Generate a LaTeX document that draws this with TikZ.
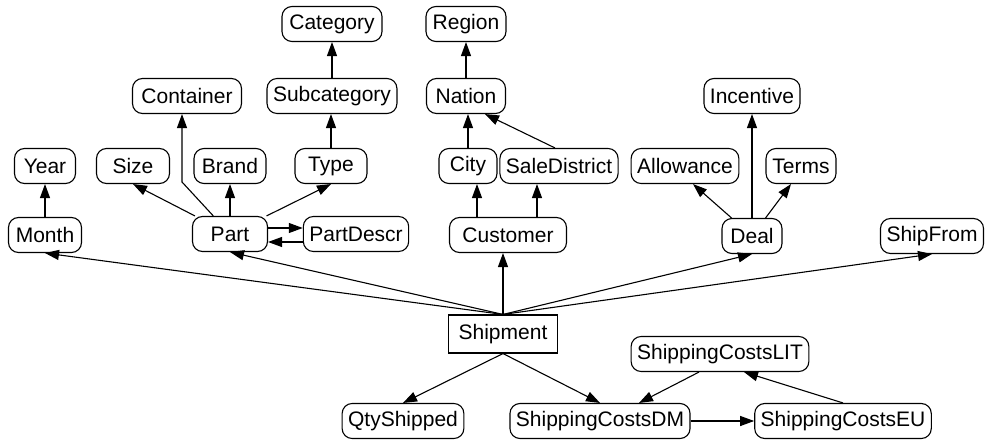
\documentclass[tikz,border=0pt]{standalone}
\usepackage{fontspec}
\setmainfont{Liberation Sans}
\usetikzlibrary{arrows.meta}

\begin{document}
\begin{tikzpicture}[x=1pt,y=-1pt,
    attr/.style={draw, rounded corners=10pt, line width=1.1pt, minimum height=35pt,
        inner xsep=6pt, font=\fontsize{21}{25}\selectfont},
    fact/.style={draw, line width=1.1pt, minimum height=38pt, inner xsep=10pt,
        font=\fontsize{21}{25}\selectfont},
    edge/.style={line width=1.1pt, -{Triangle[length=14pt,width=10pt]}}]
\useasboundingbox (0,0) rectangle (987,441);

% top rows
\node[attr, minimum width=100pt] (Category) at (332,24) {Category};
\node[attr, minimum width=80pt] (Region) at (466,24) {Region};

\node[attr, minimum width=109pt] (Container) at (187,96) {Container};
\node[attr, minimum width=127pt] (Subcategory) at (332,96) {Subcategory};
\node[attr, minimum width=79pt] (Nation) at (466,96) {Nation};
\node[attr, minimum width=91pt] (Incentive) at (752,96) {Incentive};

\node[attr, minimum width=61pt] (Year) at (45,166) {Year};
\node[attr, minimum width=73pt] (Size) at (133,166) {Size};
\node[attr, minimum width=72pt] (Brand) at (230,166) {Brand};
\node[attr, minimum width=72pt] (Type) at (331,166) {Type};
\node[attr, minimum width=58pt] (City) at (468,166) {City};
\node[attr, minimum width=118pt] (SaleDistrict) at (559,166) {SaleDistrict};
\node[attr, minimum width=106pt] (Allowance) at (685,166) {Allowance};
\node[attr, minimum width=70pt] (Terms) at (801,166) {Terms};

\node[attr, minimum width=73pt] (Month) at (45,235) {Month};
\node[attr, minimum width=75pt] (Part) at (230,234) {Part};
\node[attr, minimum width=104pt] (PartDescr) at (356,234) {PartDescr};
\node[attr, minimum width=117pt] (Customer) at (508,235) {Customer};
\node[attr, minimum width=60pt] (Deal) at (752,236) {Deal};
\node[attr, minimum width=95pt] (ShipFrom) at (932,236) {ShipFrom};

% fact and measures
\node[fact, minimum width=109pt] (Shipment) at (503,334) {Shipment};
\node[attr, minimum width=176pt] (ShippingCostsLIT) at (720,354) {ShippingCostsLIT};
\node[attr, minimum width=120pt] (QtyShipped) at (403,421) {QtyShipped};
\node[attr, minimum width=173pt] (ShippingCostsDM) at (600,421) {ShippingCostsDM};
\node[attr, minimum width=168pt] (ShippingCostsEU) at (843,421) {ShippingCostsEU};

% shipment to its dimensions
\draw[edge] (Shipment.north) -- (Month.south);
\draw[edge] (Shipment.north) -- (Part.south);
\draw[edge] (Shipment.north) -- (Shipment.north |- Customer.south);
\draw[edge] (Shipment.north) -- (Deal.south);
\draw[edge] (Shipment.north) -- (ShipFrom.south);
\draw[edge] (Shipment.south) -- (QtyShipped.north);
\draw[edge] (Shipment.south) -- (ShippingCostsDM.north);

% measures
\draw[edge] (ShippingCostsDM.east) -- (ShippingCostsEU.west);
\draw[edge] (ShippingCostsEU.north) -- ([xshift=24pt]ShippingCostsLIT.south);
\draw[edge] ([xshift=-21pt]ShippingCostsLIT.south) -- ([xshift=39pt]ShippingCostsDM.north);

% time
\draw[edge] (Month.north) -- (Year.south);

% part hierarchy
\coordinate (bend) at (182,182);
\draw[edge] (Part) -- (bend) -- (bend |- Container.south);
\draw[edge] (Part) -- (Size.south);
\draw[edge] (Part.north) -- (Brand.south);
\draw[edge] (Part) -- (Type.south);
\draw[edge] ([yshift=6pt]Part.east) -- ([yshift=6pt]PartDescr.west);
\draw[edge] ([yshift=-8pt]PartDescr.west) -- ([yshift=-8pt]Part.east);
\draw[edge] (Type.north) -- (Type.north |- Subcategory.south);
\draw[edge] (Subcategory.north) -- (Category.south);

% customer hierarchy
\draw[edge] ([xshift=-31pt]Customer.north) -- ([xshift=-31pt]Customer.north |- City.south);
\draw[edge] ([xshift=29pt]Customer.north) -- ([xshift=29pt]Customer.north |- SaleDistrict.south);
\draw[edge] (City.north) -- (City.north |- Nation.south);
\draw[edge] ([xshift=-4pt]SaleDistrict.north) -- ([xshift=19pt]Nation.south);
\draw[edge] (Nation.north) -- (Region.south);

% deal
\draw[edge] (Deal) -- ([xshift=8pt]Allowance.south);
\draw[edge] (Deal.north) -- (Incentive.south);
\draw[edge] (Deal) -- ([xshift=-10pt]Terms.south);

\end{tikzpicture}
\end{document}
